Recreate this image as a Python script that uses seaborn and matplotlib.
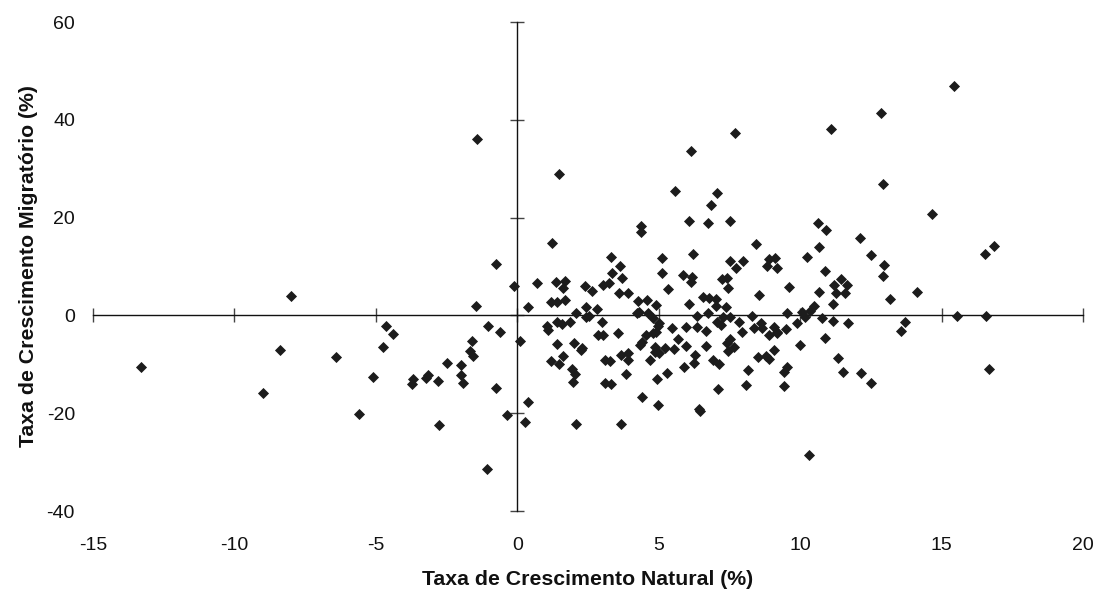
import matplotlib
matplotlib.use("Agg")
import matplotlib.pyplot as plt
import seaborn as sns
import pandas as pd

# Natural growth rate (%) and migratory growth rate (%) per municipality
natural = [
    -13.3, -8.0, -8.4, -9.0, -6.4, -5.6, -5.1, -4.75, -4.65, -4.4,
    -1.43, -0.76, -1.47, -0.12, 0.37, 0.69, 1.22, 1.36, 1.18, 1.40, 1.47,
    -1.04, -0.62, -1.61, -1.68, -1.57, -2.49, -2.0, -2.0, -1.93, -2.81,
    -3.16, -3.23, -3.69, -3.73, -2.77, -0.76, -0.37, 0.27, 0.37, 0.09,
    -1.08, 1.04, 1.08, 1.40, 1.40, 1.18, 1.47,
    5.57, 4.37, 4.37, 3.30, 3.62, 3.34, 3.69, 5.10, 5.10, 5.32, 1.68,
    1.61, 2.39, 2.63, 3.02, 3.23, 3.59, 3.91,
    1.68, 2.42, 2.81, 2.07, 2.42, 2.53, 4.26, 4.58, 4.90, 4.30, 4.23,
    4.62, 4.79, 5.00, 4.97, 1.57, 1.86, 2.99, 2.85, 3.02, 3.55, 2.00,
    2.28, 2.24, 1.61, 1.93, 2.03, 1.97, 3.09, 3.27, 3.66, 3.90, 3.90,
    3.84, 3.09, 3.30, 2.07, 3.66, 4.40, 4.97, 4.93, 5.28, 4.69, 4.86,
    4.86, 5.00, 5.21, 5.53, 5.46, 5.67, 4.40, 4.33, 4.55, 4.79, 4.90,
    6.13, 7.05, 6.84, 6.06, 6.73, 7.51, 8.43, 6.20, 7.51, 7.97, 7.72,
    8.90, 9.10, 8.82, 9.17, 10.23, 10.62, 10.66, 5.85, 6.17, 6.13, 7.23,
    7.41, 7.44, 8.54, 9.60, 10.66, 6.56, 6.77, 7.02,
    6.06, 7.02, 7.37, 6.34, 6.73, 7.27, 7.51, 7.05, 7.19, 7.83, 8.29,
    8.61, 8.65, 8.36, 7.93, 5.96, 6.34, 6.66, 9.07, 8.90, 9.17, 9.20,
    9.50, 9.53, 9.88, 10.05, 10.16, 10.34, 10.48, 9.99, 5.96, 6.66,
    6.27, 6.24, 5.89, 6.91, 7.12, 7.41, 7.51, 7.44, 7.65, 8.50, 8.79,
    8.90, 9.07, 8.15, 8.08, 7.09, 6.42, 6.45, 9.53, 9.42, 9.42, 10.31,
    12.92, 14.65, 10.90, 12.10, 12.50, 12.96, 12.92, 10.87, 11.43, 11.19,
    11.65, 11.26, 11.58, 14.12, 13.17,
    11.15, 10.76, 11.15, 11.68, 13.70, 13.56, 15.54, 10.87, 11.33, 11.50,
    12.17, 12.50,
    7.71, 11.08, 12.87, 15.43,
    16.85, 16.55, 16.56, 16.67,
]

migratory = [
    -10.5, 4.0, -7.0, -15.8, -8.5, -20.1, -12.6, -6.4, -2.1, -3.8,
    36.1, 10.5, 1.9, 6.0, 1.7, 6.6, 14.8, 6.8, 2.7, 2.7, 28.9,
    -2.1, -3.4, -5.2, -7.3, -8.3, -9.7, -10.1, -12.2, -13.8, -13.4,
    -12.2, -12.8, -13.0, -14.0, -22.4, -14.8, -20.3, -21.8, -17.7, -5.2,
    -31.4, -2.1, -2.9, -1.3, -5.8, -9.3, -9.9,
    25.5, 18.3, 17.1, 12.0, 10.1, 8.7, 7.7, 11.8, 8.7, 5.4, 7.1,
    5.6, 6.0, 5.0, 6.2, 6.6, 4.6, 4.6,
    3.2, 1.7, 1.3, 0.5, -0.3, -0.1, 3.0, 3.2, 2.1, 0.7, 0.5,
    0.5, -0.5, -1.5, -2.1, -1.7, -1.3, -1.3, -4.0, -4.0, -3.6, -5.6,
    -6.6, -7.1, -8.3, -10.9, -12.0, -13.6, -9.1, -9.3, -8.1, -7.7, -9.1,
    -12.0, -13.8, -14.0, -22.2, -22.2, -16.7, -18.3, -13.0, -11.8, -9.1, -6.4,
    -7.5, -7.7, -6.6, -6.9, -2.6, -4.8, -5.4, -6.0, -4.0, -3.6, -3.4,
    33.6, 25.0, 22.6, 19.3, 18.9, 19.3, 14.6, 12.6, 11.1, 11.1, 9.7,
    11.6, 11.8, 10.1, 9.7, 12.0, 18.9, 14.0, 8.3, 7.9, 6.9, 7.5,
    7.7, 5.6, 4.2, 5.8, 4.8, 3.8, 3.6, 3.4,
    2.4, 1.9, 1.7, -0.1, 0.5, -0.3, -0.3, -1.3, -1.9, -1.3, -0.1,
    -1.5, -2.6, -2.6, -3.4, -2.3, -2.3, -3.2, -2.3, -4.0, -3.6, -3.4,
    -2.7, 0.5, -1.5, 0.7, -0.3, 0.9, 1.9, -6.0, -6.2, -6.2,
    -8.1, -9.7, -10.5, -9.1, -9.9, -5.6, -4.8, -7.3, -6.4, -8.5, -8.3,
    -8.9, -7.1, -11.1, -14.2, -15.0, -19.1, -19.5, -10.5, -11.6, -14.4, -28.5,
    26.9, 20.8, 17.5, 15.9, 12.4, 10.3, 8.1, 9.1, 7.5, 6.2,
    6.2, 4.6, 4.6, 4.8, 3.4,
    2.4, -0.5, -1.1, -1.5, -1.3, -3.2, -0.1, -4.6, -8.7, -11.6,
    -11.8, -13.8,
    37.4, 38.1, 41.3, 46.9,
    14.1, 12.6, -0.1, -10.9,
]

x_ticks = [-15, -10, -5, 0, 5, 10, 15, 20]
y_ticks = [-40, -20, 0, 20, 40, 60]
x_label = "Taxa de Crescimento Natural (%)"
y_label = "Taxa de Crescimento Migratório (%)"

df = pd.DataFrame({"natural": natural, "migratory": migratory})

sns.set_style("white")
plt.rcParams["font.family"] = ["Liberation Sans", "DejaVu Sans"]
plt.rcParams["axes.unicode_minus"] = False

fig = plt.figure(figsize=(10.99, 5.92), dpi=100)
ax = fig.add_axes([0.0846, 0.1368, 0.9008, 0.8260])

sns.scatterplot(data=df, x="natural", y="migratory", marker="D", s=32,
                color="#1c1c1c", linewidth=0, ax=ax, zorder=3)

ax.set_xlim(-15, 20)
ax.set_ylim(-40, 60)
ax.set_xticks(x_ticks)
ax.set_yticks(y_ticks)

# Axis lines cross at the origin, with ticks straddling them
for side in ("top", "right"):
    ax.spines[side].set_visible(False)
for side in ("left", "bottom"):
    ax.spines[side].set_position(("data", 0))
    ax.spines[side].set_color("#111111")
    ax.spines[side].set_linewidth(1.0)
ax.tick_params(direction="inout", length=10, width=1.0, color="#444444",
               labelleft=False, labelbottom=False, left=True, bottom=True)
ax.set_xlabel("")
ax.set_ylabel("")

# Tick labels sit along the outer edges of the plotting area
secx = ax.secondary_xaxis(0)
secx.set_xticks(x_ticks)
secx.spines["bottom"].set_visible(False)
secx.tick_params(length=0, pad=19, labelsize=14, labelcolor="#111111")
secx.set_xlabel(x_label, fontsize=15.3, fontweight="bold", labelpad=11,
                color="#111111")

secy = ax.secondary_yaxis(0)
secy.set_yticks(y_ticks)
secy.spines["left"].set_visible(False)
secy.tick_params(length=0, pad=13, labelsize=14, labelcolor="#111111")
secy.set_ylabel(y_label, fontsize=15.3, fontweight="bold", labelpad=6,
                color="#111111")

fig.savefig("out.png", dpi=100, facecolor="white")
